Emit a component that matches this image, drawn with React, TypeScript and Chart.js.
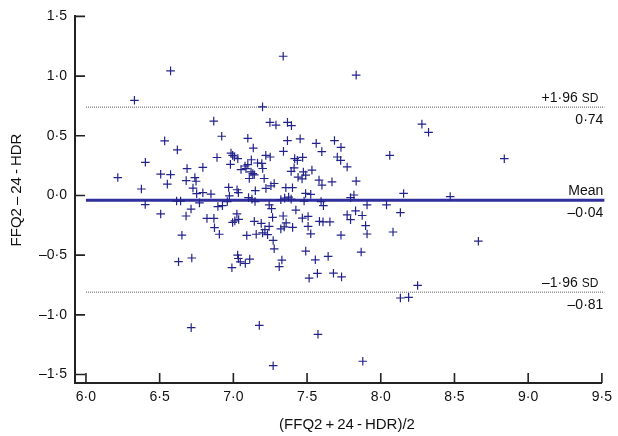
import React, { useEffect, useRef } from "react";
import { Chart, registerables } from "chart.js";

Chart.register(...registerables);

// ---- data ----
// [mean of the two methods, difference]
const POINTS_UPPER_LEFT: [number, number][] = [
  [6.574, 1.044], [6.329, 0.797], [7.198, 0.742], [6.867, 0.623], [7.248, 0.612], [7.289, 0.59],
  [6.534, 0.457], [6.921, 0.496], [7.098, 0.479], [6.62, 0.382], [7.135, 0.397], [6.403, 0.278],
  [6.889, 0.318], [6.984, 0.355], [6.995, 0.336], [7.007, 0.322], [7.03, 0.309], [6.98, 0.26],
  [7.22, 0.336], [7.25, 0.322], [6.216, 0.15], [6.376, 0.054], [6.507, 0.178], [6.574, 0.175],
  [6.552, 0.095], [6.686, 0.225], [6.793, 0.235], [6.68, 0.124], [6.739, 0.15], [6.747, 0.119],
  [6.726, 0.062], [6.751, 0.015], [6.793, 0.023], [6.848, 0.012], [6.968, 0.067], [6.973, -0.004],
  [7.025, 0.048], [7.034, 0.023], [7.103, -0.018], [7.079, 0.247], [7.122, 0.299], [7.164, 0.272],
  [7.193, 0.268], [7.098, 0.258], [7.086, 0.225], [7.052, 0.217], [7.12, 0.197], [7.132, 0.183],
  [7.142, 0.173], [7.108, 0.142], [7.199, 0.226], [7.209, 0.142], [7.149, 0.04], [7.221, 0.059],
  [7.255, 0.081], [7.277, 0.1],
];
const POINTS_UPPER_RIGHT: [number, number][] = [
  [7.338, 1.166], [7.833, 1.008], [7.367, 0.612], [7.394, 0.585], [7.367, 0.459], [7.453, 0.474],
  [7.562, 0.436], [7.6, 0.367], [7.686, 0.46], [7.73, 0.403], [8.279, 0.598], [8.324, 0.529],
  [8.061, 0.336], [7.34, 0.369], [7.416, 0.309], [7.434, 0.294], [7.47, 0.319], [7.412, 0.231],
  [7.392, 0.202], [7.475, 0.197], [7.533, 0.212], [7.491, 0.17], [7.439, 0.153], [7.466, 0.139],
  [7.581, 0.129], [7.601, 0.087], [7.669, 0.114], [7.705, 0.322], [7.728, 0.294], [7.772, 0.239],
  [7.833, 0.12], [7.356, 0.065], [7.401, 0.065], [8.838, 0.308],
];
const POINTS_LOWER_LEFT: [number, number][] = [
  [6.402, -0.076], [6.507, -0.155], [6.615, -0.047], [6.642, -0.047], [6.713, -0.114], [6.679, -0.172],
  [6.77, -0.062], [6.821, -0.192], [6.868, -0.192], [6.872, -0.27], [6.895, -0.093], [6.926, -0.085],
  [6.959, -0.051], [6.905, -0.325], [6.651, -0.333], [6.628, -0.555], [6.718, -0.524], [7.024, -0.155],
  [7.01, -0.213], [6.995, -0.226], [7.036, -0.201], [7.142, -0.217], [7.189, -0.234], [7.091, -0.335],
  [7.155, -0.325], [7.029, -0.499], [7.034, -0.528], [7.047, -0.557], [7.081, -0.57], [7.111, -0.533],
  [6.99, -0.605], [7.147, -0.051], [7.126, -0.031], [7.243, -0.079], [7.259, -0.11], [7.266, -0.184],
  [7.243, -0.259], [7.232, -0.328], [7.214, -0.286], [7.198, -0.314], [7.27, -0.377], [7.277, -0.447],
  [7.311, -0.596], [6.714, -1.107], [7.176, -1.088], [7.27, -1.426],
];
const POINTS_LOWER_RIGHT: [number, number][] = [
  [7.322, -0.035], [7.348, -0.022], [7.375, -0.014], [7.392, -0.031], [7.49, 0.017], [7.525, 0.009],
  [7.48, -0.047], [7.595, -0.051], [7.611, -0.085], [7.795, -0.018], [7.818, 0.004], [8.155, 0.017],
  [7.329, -0.541], [7.338, -0.172], [7.322, -0.28], [7.345, -0.263], [7.402, -0.267], [7.358, -0.23],
  [7.424, -0.122], [7.468, -0.19], [7.507, -0.176], [7.507, -0.259], [7.525, -0.321], [7.584, -0.217],
  [7.608, -0.221], [7.655, -0.221], [7.73, -0.333], [7.491, -0.466], [7.556, -0.539], [7.643, -0.51],
  [7.514, -0.693], [7.57, -0.653], [7.679, -0.651], [7.734, -0.682], [7.772, -0.162], [7.795, -0.203],
  [7.829, -0.129], [7.874, -0.168], [7.897, -0.253], [7.907, -0.323], [7.867, -0.474], [7.907, -0.079],
  [8.039, -0.079], [8.133, -0.143], [8.083, -0.306], [8.25, -0.754], [8.133, -0.859], [8.189, -0.854],
  [7.574, -1.163], [7.878, -1.389], [8.471, -0.01], [8.662, -0.383],
];

const MEAN_DIFF = -0.04;
const UPPER_LOA = 0.74;
const LOWER_LOA = -0.81;
const LINE_SPAN = [6.0, 9.517];

const X_TICKS = [6.0, 6.5, 7.0, 7.5, 8.0, 8.5, 9.0, 9.5];
const Y_TICKS = [-1.5, -1.0, -0.5, 0.0, 0.5, 1.0, 1.5];
const X_MIN = 5.9257;
const X_MAX = 9.5;
const Y_MIN = -1.571;
const Y_MAX = 1.5;

const X_TITLE = "(FFQ2\u2009+\u200924\u2009-\u2009HDR)/2";
const Y_TITLE = "FFQ2\u2009\u2013\u200924\u2009-\u2009HDR";

// ---- style ----
const FONT = "'Liberation Sans', Arial, Helvetica, sans-serif";
const AXIS = "#222222";
const TEXT = "#111111";
const POINT_COLOR = "#23238c";
const MEAN_COLOR = "#2f2f9e";
const LOA_COLOR = "#555555";

const fmt = (v: number, digits: number) => {
  const s = Math.abs(v).toFixed(digits).replace(".", "\u00B7");
  return v < 0 ? "\u2013" + s : s;
};

const overlay = {
  id: "overlay",
  afterDraw(chart: any) {
    const { ctx, chartArea, scales } = chart;
    const xs = scales.x;
    const ys = scales.y;
    ctx.save();
    // inward tick marks
    ctx.strokeStyle = AXIS;
    ctx.lineWidth = 1.6;
    ctx.beginPath();
    X_TICKS.forEach((v) => {
      const px = xs.getPixelForValue(v);
      ctx.moveTo(px, chartArea.bottom);
      ctx.lineTo(px, chartArea.bottom - 10);
    });
    Y_TICKS.forEach((v) => {
      const py = ys.getPixelForValue(v);
      ctx.moveTo(chartArea.left, py);
      ctx.lineTo(chartArea.left + 10, py);
    });
    ctx.stroke();

    // line annotations
    const right = xs.getPixelForValue(LINE_SPAN[1]) - 1;
    ctx.fillStyle = TEXT;
    ctx.textBaseline = "alphabetic";
    ctx.textAlign = "right";
    const sdLabel = (sign: string, y: number) => {
      ctx.font = `12px ${FONT}`;
      const w = ctx.measureText("SD").width;
      ctx.fillText("SD", right - 5, y);
      ctx.font = `14px ${FONT}`;
      ctx.fillText(sign + "1\u00B796", right - 5 - w - 4, y);
    };
    const yU = ys.getPixelForValue(UPPER_LOA);
    const yM = ys.getPixelForValue(MEAN_DIFF);
    const yL = ys.getPixelForValue(LOWER_LOA);
    sdLabel("+", yU - 5);
    sdLabel("\u2013", yL - 5);
    ctx.font = `14px ${FONT}`;
    ctx.fillText(fmt(UPPER_LOA, 2), right, yU + 17);
    ctx.fillText("Mean", right, yM - 5);
    ctx.fillText(fmt(MEAN_DIFF, 2), right, yM + 17);
    ctx.fillText(fmt(LOWER_LOA, 2), right, yL + 17);

    // axis titles
    ctx.font = `15px ${FONT}`;
    ctx.textAlign = "center";
    ctx.textBaseline = "middle";
    ctx.fillText(X_TITLE, 347, 425);
    ctx.translate(17, 190);
    ctx.rotate(-Math.PI / 2);
    ctx.fillText(Y_TITLE, 0, 0);
    ctx.restore();
  },
};

export default function App() {
  const ref = useRef<HTMLCanvasElement | null>(null);

  useEffect(() => {
    if (!ref.current) return;
    const points = [
      ...POINTS_UPPER_LEFT,
      ...POINTS_UPPER_RIGHT,
      ...POINTS_LOWER_LEFT,
      ...POINTS_LOWER_RIGHT,
    ].map(([x, y]) => ({ x, y }));
    const hline = (y: number) => [
      { x: LINE_SPAN[0], y },
      { x: LINE_SPAN[1], y },
    ];
    const tickFont = { family: FONT, size: 14 };
    const chart = new Chart(ref.current, {
      type: "scatter",
      data: {
        datasets: [
          {
            type: "line",
            data: hline(MEAN_DIFF),
            borderColor: MEAN_COLOR,
            borderWidth: 2.8,
            pointRadius: 0,
            clip: false,
            order: 2,
          } as any,
          {
            type: "line",
            data: hline(UPPER_LOA),
            borderColor: LOA_COLOR,
            borderWidth: 1,
            borderDash: [1, 1],
            pointRadius: 0,
            clip: false,
            order: 2,
          } as any,
          {
            type: "line",
            data: hline(LOWER_LOA),
            borderColor: LOA_COLOR,
            borderWidth: 1,
            borderDash: [1, 1],
            pointRadius: 0,
            clip: false,
            order: 2,
          } as any,
          {
            type: "scatter",
            data: points,
            pointStyle: "cross",
            pointRadius: 4.3,
            pointBorderWidth: 1.2,
            pointBorderColor: POINT_COLOR,
            pointBackgroundColor: POINT_COLOR,
            order: 1,
          } as any,
        ],
      },
      options: {
        responsive: false,
        animation: false,
        events: [],
        layout: { padding: { left: 0, top: 13, right: 14, bottom: 0 } },
        plugins: { legend: { display: false }, tooltip: { enabled: false } },
        scales: {
          x: {
            type: "linear",
            min: X_MIN,
            max: X_MAX,
            afterBuildTicks: (s: any) => {
              s.ticks = X_TICKS.map((value) => ({ value }));
            },
            afterFit: (s: any) => {
              s.height = 53;
            },
            ticks: {
              autoSkip: false,
              maxRotation: 0,
              padding: 6,
              color: TEXT,
              font: tickFont,
              callback: (v: any) => fmt(Number(v), 1),
            },
            grid: { display: true, drawOnChartArea: false, drawTicks: false },
            border: { display: true, color: AXIS, width: 2 },
          },
          y: {
            type: "linear",
            min: Y_MIN,
            max: Y_MAX,
            afterBuildTicks: (s: any) => {
              s.ticks = Y_TICKS.map((value) => ({ value }));
            },
            afterFit: (s: any) => {
              s.width = 75;
            },
            ticks: {
              autoSkip: false,
              padding: 8,
              color: TEXT,
              font: tickFont,
              callback: (v: any) => fmt(Number(v), 1),
            },
            grid: { display: true, drawOnChartArea: false, drawTicks: false },
            border: { display: true, color: AXIS, width: 2 },
          },
        },
      } as any,
      plugins: [overlay],
    });
    return () => chart.destroy();
  }, []);

  return (
    <div style={{ position: "fixed", left: 0, top: 0, width: 618, height: 436, background: "#ffffff" }}>
      <canvas ref={ref} width={618} height={436} style={{ display: "block", width: 618, height: 436 }} />
    </div>
  );
}
